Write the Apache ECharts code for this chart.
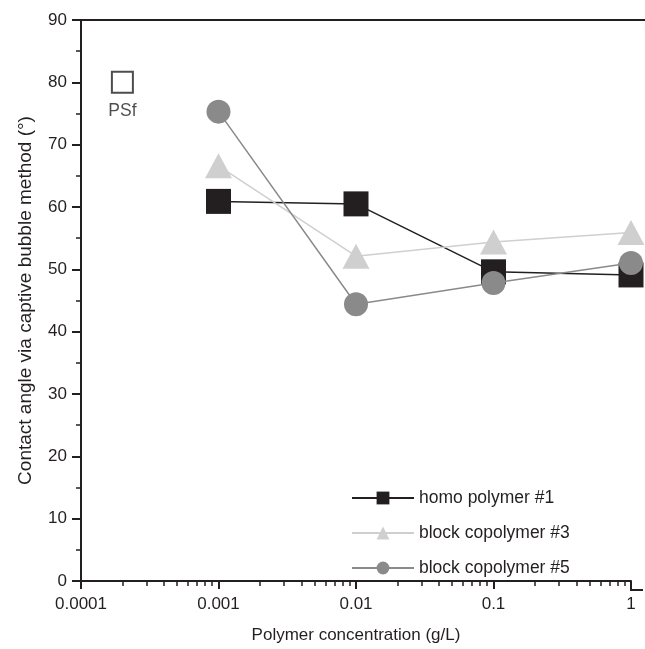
<!DOCTYPE html>
<html>
<head>
<meta charset="utf-8">
<title>Contact angle vs polymer concentration</title>
<script src="https://cdn.jsdelivr.net/npm/echarts@6/dist/echarts.min.js"></script>
<style>
  html, body { margin: 0; padding: 0; background: #fff; }
  #chart { width: 645px; height: 649px; }
</style>
</head>
<body>
<div id="chart"></div>
<script>
// Polymer concentrations (g/L) on the log axis
const concentrations = [0.001, 0.01, 0.1, 1];

// Contact angles (degrees) measured by captive bubble
const homoPolymer1 = [60.9, 60.5, 49.6, 49.1];
const blockCopolymer3 = [66.6, 52.1, 54.4, 55.9];
const blockCopolymer5 = [75.3, 44.4, 47.8, 51.0];

// Bare PSf membrane reference point
const psfConcentration = [0.0002];
const psfAngle = [80];

// Axis ticks
const xMajorTicks = [0.0001, 0.001, 0.01, 0.1, 1];
const xTickLabels = ['0.0001', '0.001', '0.01', '0.1', '1'];
const xMinorTicks = [];
[0.0001, 0.001, 0.01, 0.1].forEach(function (d) {
  for (let k = 2; k <= 9; k++) xMinorTicks.push(+(d * k).toPrecision(3));
});

const seriesNames = ['homo polymer #1', 'block copolymer #3', 'block copolymer #5'];

const FONT = '"Liberation Sans", Arial, Helvetica, sans-serif';
const INK = '#231f20';

function pairs(xs, ys) {
  return xs.map(function (x, i) { return [x, ys[i]]; });
}

const chart = echarts.init(document.getElementById('chart'), null, { renderer: 'canvas' });

chart.setOption({
  animation: false,
  backgroundColor: '#ffffff',
  textStyle: { fontFamily: FONT, color: INK },
  grid: { left: 81, right: 14, top: 20, bottom: 59, containLabel: false },
  xAxis: [
    {
      type: 'log',
      logBase: 10,
      min: 0.0001,
      max: 1,
      name: 'Polymer concentration (g/L)',
      nameLocation: 'middle',
      nameGap: 46,
      nameTextStyle: { fontSize: 17, color: INK, fontFamily: FONT },
      axisLine: { show: true, onZero: false, lineStyle: { color: INK, width: 2 } },
      axisTick: { show: true, inside: false, length: 8, customValues: xMajorTicks, lineStyle: { color: INK, width: 2 } },
      axisLabel: {
        show: true,
        customValues: xMajorTicks,
        margin: 15,
        fontSize: 17,
        color: INK,
        fontFamily: FONT,
        formatter: function (v) {
          const i = Math.round(Math.log10(v)) + 4;
          return xTickLabels[i] !== undefined ? xTickLabels[i] : String(v);
        }
      },
      splitLine: { show: false }
    },
    {
      // Minor decade subdivisions
      type: 'log',
      logBase: 10,
      min: 0.0001,
      max: 1,
      position: 'bottom',
      axisLine: { show: false },
      axisTick: { show: true, inside: false, length: 5, customValues: xMinorTicks, lineStyle: { color: INK, width: 1.5 } },
      axisLabel: { show: false },
      splitLine: { show: false }
    }
  ],
  yAxis: {
    type: 'value',
    min: 0,
    max: 90,
    interval: 10,
    name: 'Contact angle via captive bubble method (°)',
    nameLocation: 'middle',
    nameGap: 46,
    nameTextStyle: { fontSize: 19, color: INK, fontFamily: FONT },
    axisLine: { show: true, onZero: false, lineStyle: { color: INK, width: 2 } },
    axisTick: { show: true, inside: false, length: 9, lineStyle: { color: INK, width: 2 } },
    minorTick: { show: true, splitNumber: 2, length: 5, lineStyle: { color: INK, width: 1.5 } },
    axisLabel: { margin: 14, fontSize: 17, color: INK, fontFamily: FONT },
    splitLine: { show: false },
    minorSplitLine: { show: false }
  },
  legend: {
    orient: 'vertical',
    left: 346,
    top: 484,
    itemWidth: 62,
    itemHeight: 16,
    itemGap: 17,
    data: seriesNames,
    textStyle: { fontSize: 17.5, color: INK, fontFamily: FONT }
  },
  graphic: [
    // Frame line along the top of the plot and the x-axis run-out past 1
    { type: 'line', shape: { x1: 81, y1: 20, x2: 645, y2: 20 }, style: { stroke: INK, lineWidth: 2 }, silent: true },
    { type: 'line', shape: { x1: 630, y1: 590, x2: 643, y2: 590 }, style: { stroke: INK, lineWidth: 2 }, silent: true }
  ],
  series: [
    {
      name: seriesNames[0],
      type: 'line',
      data: pairs(concentrations, homoPolymer1),
      symbol: 'rect',
      symbolSize: 25,
      itemStyle: { color: INK },
      lineStyle: { color: INK, width: 1.5 },
      z: 2
    },
    {
      name: seriesNames[1],
      type: 'line',
      data: pairs(concentrations, blockCopolymer3),
      symbol: 'triangle',
      symbolSize: [27, 25],
      itemStyle: { color: '#cfcfcf' },
      lineStyle: { color: '#cfcfcf', width: 1.5 },
      z: 3
    },
    {
      name: seriesNames[2],
      type: 'line',
      data: pairs(concentrations, blockCopolymer5),
      symbol: 'circle',
      symbolSize: 24,
      itemStyle: { color: '#8a8a8a' },
      lineStyle: { color: '#8a8a8a', width: 1.5 },
      z: 4
    },
    {
      name: 'PSf',
      type: 'scatter',
      data: pairs(psfConcentration, psfAngle),
      symbol: 'rect',
      symbolSize: 21,
      itemStyle: { color: '#ffffff', borderColor: INK, borderWidth: 2 },
      label: {
        show: true,
        position: 'bottom',
        distance: 8,
        formatter: 'PSf',
        fontSize: 17.5,
        color: INK,
        fontFamily: FONT
      },
      z: 5
    }
  ]
});
</script>
</body>
</html>
